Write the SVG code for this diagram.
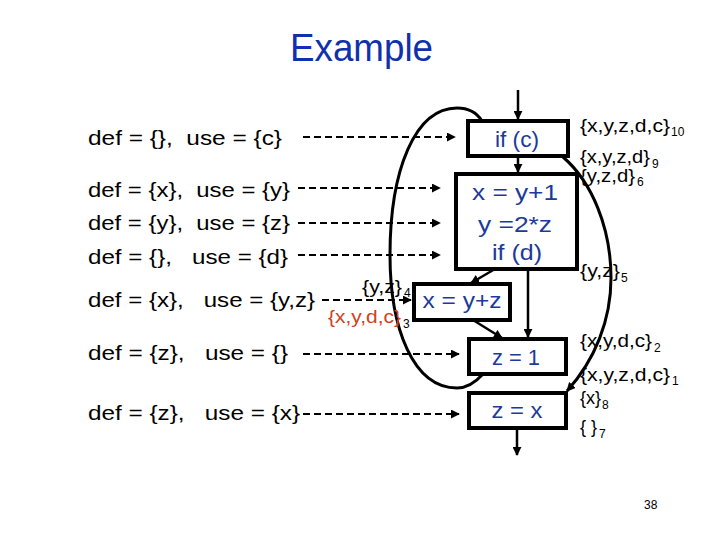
<svg xmlns="http://www.w3.org/2000/svg" width="720" height="540" viewBox="0 0 720 540">
<defs>
<marker id="ahs" viewBox="0 0 10 10" refX="9" refY="5" markerWidth="9" markerHeight="9" orient="auto" markerUnits="userSpaceOnUse">
<path d="M0,0 L10,5 L0,10 z" fill="#000"/>
</marker>
</defs>
<style>
text{font-family:"Liberation Sans",Arial,sans-serif;white-space:pre}
.title{font-size:38px;fill:#0f31ad}
.lt{font-size:21px;fill:#000}
.bt{font-size:22px;fill:#1c3a9a;text-anchor:middle}
.box{fill:#fff;stroke:#000;stroke-width:4}
.sl{font-size:18px;fill:#000}
.sub{font-size:12px;fill:#000}
.red{fill:#d2401c}
.dash{stroke:#000;stroke-width:2;stroke-dasharray:7,4;fill:none;marker-end:url(#ahs)}
.edge{stroke:#000;stroke-width:2.5;fill:none;marker-end:url(#ahs)}
.curve{stroke:#000;stroke-width:3;fill:none}
</style>
<rect width="720" height="540" fill="#fff"/>
<text class="title" x="290" y="61" textLength="143" lengthAdjust="spacingAndGlyphs">Example</text>

<g id="left-labels">
<text class="lt" x="88" y="145" textLength="194" lengthAdjust="spacingAndGlyphs">def = {},  use = {c}</text>
<text class="lt" x="88" y="197" textLength="202" lengthAdjust="spacingAndGlyphs">def = {x},  use = {y}</text>
<text class="lt" x="88" y="230" textLength="202" lengthAdjust="spacingAndGlyphs">def = {y},  use = {z}</text>
<text class="lt" x="88" y="264" textLength="200" lengthAdjust="spacingAndGlyphs">def = {},   use = {d}</text>
<text class="lt" x="88" y="307" textLength="227" lengthAdjust="spacingAndGlyphs">def = {x},   use = {y,z}</text>
<text class="lt" x="88" y="360" textLength="200" lengthAdjust="spacingAndGlyphs">def = {z},   use = {}</text>
<text class="lt" x="88" y="420" textLength="212" lengthAdjust="spacingAndGlyphs">def = {z},   use = {x}</text>
</g>

<g id="connectors">
<line class="dash" x1="303" y1="137" x2="455" y2="137"/>
<line class="dash" x1="298" y1="188" x2="440" y2="188"/>
<line class="dash" x1="298" y1="223" x2="440" y2="223"/>
<line class="dash" x1="298" y1="255" x2="440" y2="255"/>
<line class="dash" x1="322" y1="300" x2="411" y2="300"/>
<line class="dash" x1="303" y1="354" x2="459" y2="354"/>
<line class="dash" x1="303" y1="414" x2="459" y2="414"/>
<line class="edge" x1="518" y1="90" x2="518" y2="119"/>
<line class="edge" x1="518" y1="156" x2="518" y2="172"/>
<line class="edge" x1="528" y1="269" x2="528" y2="337"/>
<line class="edge" x1="495" y1="269" x2="471" y2="283"/>
<line class="edge" x1="473" y1="320" x2="502" y2="338"/>
<line class="edge" x1="517" y1="428" x2="517" y2="455"/>
<path class="curve" d="M483,374 C474,384 466,388 457,388 C413,388 390,328 390,255 C390,170 415,108 457,108 C468,108 477,113 482,121"/>
<path class="curve" d="M563,157 C592,182 611,228 611,278 C611,320 595,360 567,391" marker-end="url(#ahs)"/>
</g>

<g id="n-ifc">
<rect class="box" x="468" y="121" width="100" height="35"/>
<text class="bt" x="517" y="147" textLength="44" lengthAdjust="spacingAndGlyphs">if (c)</text>
</g>
<g id="n-block">
<rect class="box" x="456" y="174" width="121" height="95"/>
<text class="bt" x="515" y="200" textLength="86" lengthAdjust="spacingAndGlyphs">x = y+1</text>
<text class="bt" x="515" y="232" textLength="74" lengthAdjust="spacingAndGlyphs">y =2*z</text>
<text class="bt" x="517" y="260" textLength="50" lengthAdjust="spacingAndGlyphs">if (d)</text>
</g>
<g id="n-xyz">
<rect class="box" x="414" y="284" width="96" height="36"/>
<text class="bt" x="462" y="308" textLength="79" lengthAdjust="spacingAndGlyphs">x = y+z</text>
</g>
<g id="n-z1">
<rect class="box" x="469" y="339" width="97" height="35"/>
<text class="bt" x="516" y="365" textLength="48" lengthAdjust="spacingAndGlyphs">z = 1</text>
</g>
<g id="n-zx">
<rect class="box" x="469" y="393" width="97" height="35"/>
<text class="bt" x="517" y="418" textLength="51" lengthAdjust="spacingAndGlyphs">z = x</text>
</g>

<g id="sets">
<text class="sl" x="362" y="293" textLength="40" lengthAdjust="spacingAndGlyphs">{y,z}</text>
<text class="sub" x="404" y="297">4</text>
<text class="sl red" x="328" y="323" textLength="73" lengthAdjust="spacingAndGlyphs">{x,y,d,c}</text>
<text class="sub" x="403" y="328">3</text>

<text class="sl" x="580" y="132" textLength="90" lengthAdjust="spacingAndGlyphs">{x,y,z,d,c}</text>
<text class="sub" x="671" y="136">10</text>
<text class="sl" x="580" y="163" textLength="70" lengthAdjust="spacingAndGlyphs">{x,y,z,d}</text>
<text class="sub" x="652" y="168">9</text>
<text class="sl" x="580" y="182" textLength="55" lengthAdjust="spacingAndGlyphs">{y,z,d}</text>
<text class="sub" x="637" y="186">6</text>
<text class="sl" x="580" y="277" textLength="40" lengthAdjust="spacingAndGlyphs">{y,z}</text>
<text class="sub" x="621" y="282">5</text>
<text class="sl" x="580" y="347" textLength="72" lengthAdjust="spacingAndGlyphs">{x,y,d,c}</text>
<text class="sub" x="654" y="352">2</text>
<text class="sl" x="580" y="381" textLength="90" lengthAdjust="spacingAndGlyphs">{x,y,z,d,c}</text>
<text class="sub" x="672" y="385">1</text>
<text class="sl" x="580" y="404">{x}</text>
<text class="sub" x="602" y="409">8</text>
<text class="sl" x="580" y="433">{ }</text>
<text class="sub" x="599" y="438">7</text>
</g>
<text x="644" y="509" style="font-size:12px;fill:#000">38</text>
</svg>
